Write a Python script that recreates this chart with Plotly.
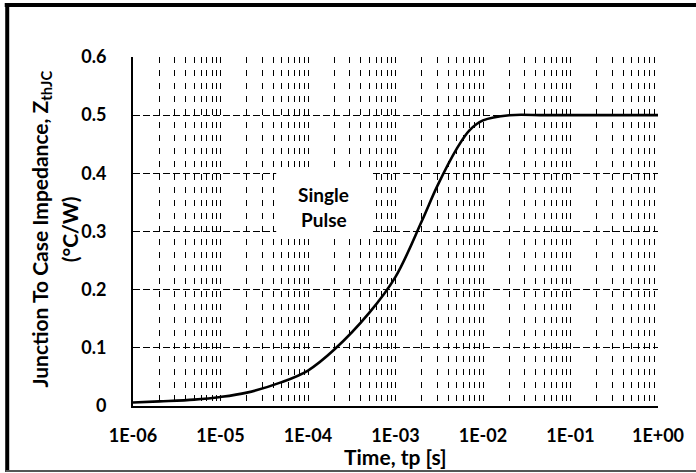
import plotly.graph_objects as go

# ---- data ----
time_s = [1e-6, 2e-6, 5e-6, 1e-5, 2e-5, 5e-5, 1e-4, 2e-4, 5e-4, 1e-3, 2e-3, 3e-3,
          5e-3, 7e-3, 1e-2, 2e-2, 5e-2, 1e-1, 1.0]
zth = [0.006, 0.008, 0.011, 0.0155, 0.023, 0.041, 0.061, 0.097, 0.160, 0.222, 0.318,
       0.378, 0.442, 0.474, 0.491, 0.500, 0.500, 0.500, 0.500]

x_tickvals = [1e-6, 1e-5, 1e-4, 1e-3, 1e-2, 1e-1, 1e0]
x_ticktext = ["1E-06", "1E-05", "1E-04", "1E-03", "1E-02", "1E-01", "1E+00"]
y_tickvals = [0, 0.1, 0.2, 0.3, 0.4, 0.5, 0.6]
y_ticktext = ["0", "0.1", "0.2", "0.3", "0.4", "0.5", "0.6"]

minor_vals = [m * d for d in x_tickvals[:-1] for m in range(2, 10)]

FONT = "Lato"
FS_TICK = 18
FS_TITLE = 21
FS_NOTE = 19
fig = go.Figure()
fig.add_trace(go.Scatter(x=time_s, y=zth, mode="lines",
                         line=dict(color="black", width=2.6, shape="spline", smoothing=1.0),
                         showlegend=False, hoverinfo="skip"))

W, H = 696, 473
L, R, T, B = 133, 35, 57, 67
pw, ph = W - L - R, H - T - B


def px(xp):
    return (xp - L) / pw


def py(yp):
    return (H - B - yp) / ph


fig.update_layout(
    width=W, height=H,
    margin=dict(l=L, r=R, t=T, b=B, pad=0),
    paper_bgcolor="white", plot_bgcolor="white",
    font=dict(family=FONT, size=FS_TICK, color="black"),
    xaxis=dict(type="log", range=[-6, 0], tickmode="array",
               tickvals=x_tickvals, ticktext=x_ticktext,
               tickfont=dict(family=FONT, size=FS_TICK, color="black", weight="bold"),
               showline=True, linecolor="black", linewidth=2,
               showgrid=True, gridcolor="black", gridwidth=1, griddash="6px,7px",
               ticks="", ticklabelstandoff=12, zeroline=False,
               minor=dict(tickmode="array", tickvals=minor_vals, showgrid=True,
                          gridcolor="black", gridwidth=1, griddash="6px,7px", ticks="")),
    yaxis=dict(range=[0, 0.6], tickmode="array", tickvals=y_tickvals, ticktext=y_ticktext,
               tickfont=dict(family=FONT, size=FS_TICK, color="black", weight="bold"),
               showline=True, linecolor="black", linewidth=2,
               showgrid=True, gridcolor="black", gridwidth=1, griddash="7px,3px",
               ticks="", ticklabelstandoff=21, zeroline=False),
)


def note(x, y, text, size, angle=0):
    fig.add_annotation(xref="paper", yref="paper", x=x, y=y, text=text, textangle=angle,
                       xanchor="center", yanchor="middle", showarrow=False,
                       font=dict(family=FONT, size=size, color="black"))


# white text box
fig.add_shape(type="rect", xref="paper", yref="paper",
              x0=px(277), x1=px(373), y0=py(233), y1=py(170),
              fillcolor="white", line=dict(width=0), layer="above")
note(px(325), py(194), "<b>Single</b>", FS_NOTE)
note(px(325), py(220), "<b>Pulse</b>", FS_NOTE)

# axis titles
note(0.5, py(456), "<b>Time, tp [s]</b>", FS_TITLE)
note(px(40), py(229), "<b>Junction To Case Impedance, Z<sub>thJC</sub></b>", FS_TITLE, -90)
note(px(69), py(229), "<b>(°C/W)</b>", FS_TITLE, -90)

# outer border
fig.add_shape(type="line", xref="paper", yref="paper", x0=px(4), x1=px(700), y0=py(5), y1=py(5),
              line=dict(color="black", width=4))
fig.add_shape(type="line", xref="paper", yref="paper", x0=px(6.5), x1=px(6.5), y0=py(3), y1=py(472),
              line=dict(color="black", width=4))
fig.add_shape(type="line", xref="paper", yref="paper", x0=px(5), x1=px(700), y0=py(471), y1=py(471),
              line=dict(color="#555555", width=2))

fig.write_html("out.html", config={"displayModeBar": False},
               post_script="document.body.style.margin='0px';")
